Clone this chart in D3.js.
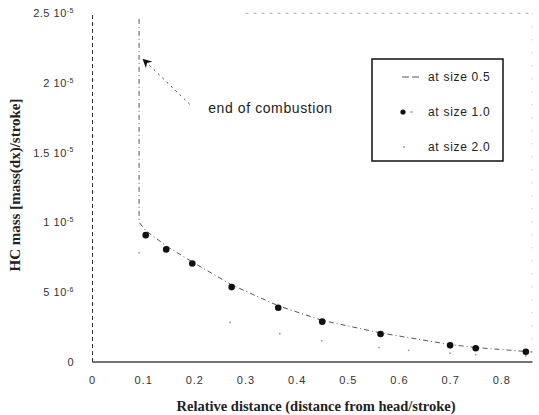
<!DOCTYPE html>
<html lang="en">
  <head>
    <meta charset="utf-8">
    <title>HC mass</title>
    <script src="https://cdn.jsdelivr.net/npm/d3@7/dist/d3.min.js"></script>
    <style>
      body { margin: 0; background: #fff; }
      svg { display: block; }
    </style>
  </head>
  <body>
    <div id="chart"></div>
    <script type="text/javascript">
    (function(d3) {
      'use strict';

      // tick values / labels
      var xTicks = [0, 0.1, 0.2, 0.3, 0.4, 0.5, 0.6, 0.7, 0.8];
      var xTickLabels = ['0', '0.1', '0.2', '0.3', '0.4', '0.5', '0.6', '0.7', '0.8'];
      var yTicks = [0, 5e-6, 1e-5, 1.5e-5, 2e-5, 2.5e-5];
      var yTickMant = ['0', '5', '1', '1.5', '2', '2.5'];
      var yTickExp = ['', '-6', '-5', '-5', '-5', '-5'];

      // at size 0.5 (dashed line)
      var size05X = [0.092, 0.092, 0.105, 0.145, 0.196, 0.273, 0.364, 0.45, 0.564, 0.70, 0.75, 0.848, 0.86];
      var size05Y = [2.46e-5, 1.0e-5, 0.94e-5, 0.83e-5, 0.715e-5, 0.55e-5, 0.40e-5, 0.295e-5, 0.205e-5, 0.122e-5, 0.10e-5, 0.072e-5, 0.068e-5];

      // at size 1.0 (filled dots)
      var size10X = [0.105, 0.145, 0.196, 0.273, 0.364, 0.45, 0.564, 0.70, 0.75, 0.848];
      var size10Y = [0.907e-5, 0.805e-5, 0.704e-5, 0.534e-5, 0.386e-5, 0.286e-5, 0.197e-5, 0.116e-5, 0.095e-5, 0.07e-5];

      // at size 2.0 (faint small marks)
      var size20X = [0.092, 0.27, 0.367, 0.449, 0.561, 0.619, 0.70, 0.75, 0.848];
      var size20Y = [0.78e-5, 0.28e-5, 0.20e-5, 0.15e-5, 0.10e-5, 0.08e-5, 0.06e-5, 0.05e-5, 0.04e-5];

      var legendLabels = ['at size 0.5', 'at size 1.0', 'at size 2.0'];

      var width = 539;
      var height = 415;

      var x = d3.scaleLinear().domain([0, 0.86]).range([92, 532]);
      var y = d3.scaleLinear().domain([0, 2.5e-5]).range([361.5, 13.3]);

      var svg = d3.select('#chart')
        .append('svg')
        .attr('width', width)
        .attr('height', height)
        .style('font-family', 'Arial, "Liberation Sans", sans-serif');

      // frame (faint, scanned look)
      svg.append('line')
        .attr('x1', x(0.3)).attr('x2', x(0.86))
        .attr('y1', y(2.5e-5)).attr('y2', y(2.5e-5))
        .attr('stroke', '#aaa').attr('stroke-width', 1)
        .attr('stroke-dasharray', '3,5');
      svg.append('line')
        .attr('x1', x(0.86)).attr('x2', x(0.86))
        .attr('y1', y(2.5e-5)).attr('y2', y(0))
        .attr('stroke', '#bbb').attr('stroke-width', 1)
        .attr('stroke-dasharray', '1,12');

      // x axis
      var xAxis = d3.axisBottom(x)
        .tickValues(xTicks)
        .tickSize(0)
        .tickPadding(15)
        .tickFormat(function(d, i) { return xTickLabels[i]; });
      var gx = svg.append('g')
        .attr('transform', 'translate(0,' + y(0) + ')')
        .call(xAxis);
      gx.select('.domain').attr('stroke', '#444').attr('stroke-width', 1.4);
      gx.selectAll('text')
        .attr('font-size', 11)
        .attr('fill', '#333')
        .attr('letter-spacing', 1);

      // y axis
      var yAxis = d3.axisLeft(y)
        .tickValues(yTicks)
        .tickSize(0)
        .tickPadding(18)
        .tickFormat(function() { return ''; });
      var gy = svg.append('g')
        .attr('transform', 'translate(' + x(0) + ',0)')
        .call(yAxis);
      gy.select('.domain')
        .attr('stroke', '#333').attr('stroke-width', 1)
        .attr('stroke-dasharray', '4,3');
      gy.selectAll('.tick text')
        .attr('font-size', 11)
        .attr('fill', '#333')
        .attr('letter-spacing', 0.5)
        .each(function(d, i) {
          var t = d3.select(this);
          if (yTickExp[i] === '') {
            t.text(yTickMant[i]);
            return;
          }
          t.append('tspan').text(yTickMant[i] + ' 10');
          t.append('tspan')
            .attr('font-size', 7)
            .attr('dy', '-0.6em')
            .text(yTickExp[i]);
        });

      // axis titles
      svg.append('text')
        .attr('x', 316)
        .attr('y', 411)
        .attr('text-anchor', 'middle')
        .attr('font-family', '"Liberation Serif", "Times New Roman", serif')
        .attr('font-weight', 'bold')
        .attr('font-size', 14.5)
        .attr('fill', '#222')
        .text('Relative distance (distance from head/stroke)');

      svg.append('text')
        .attr('transform', 'translate(20,185) rotate(-90)')
        .attr('text-anchor', 'middle')
        .attr('font-family', '"Liberation Serif", "Times New Roman", serif')
        .attr('font-weight', 'bold')
        .attr('font-size', 15)
        .attr('fill', '#222')
        .text('HC mass [mass(dx)/stroke]');

      // at size 0.5 line
      var line = d3.line()
        .x(function(d) { return x(d[0]); })
        .y(function(d) { return y(d[1]); });
      svg.append('path')
        .datum(d3.zip(size05X, size05Y))
        .attr('d', line)
        .attr('fill', 'none')
        .attr('stroke', '#555')
        .attr('stroke-width', 1)
        .attr('stroke-dasharray', '5,3,1,3');

      // at size 2.0 marks
      svg.selectAll('.s20')
        .data(d3.zip(size20X, size20Y))
        .enter()
        .append('circle')
        .attr('class', 's20')
        .attr('cx', function(d) { return x(d[0]); })
        .attr('cy', function(d) { return y(d[1]); })
        .attr('r', 0.9)
        .attr('fill', '#999');

      // at size 1.0 dots
      svg.selectAll('.s10')
        .data(d3.zip(size10X, size10Y))
        .enter()
        .append('circle')
        .attr('class', 's10')
        .attr('cx', function(d) { return x(d[0]); })
        .attr('cy', function(d) { return y(d[1]); })
        .attr('r', 3.3)
        .attr('fill', '#111');

      // annotation: end of combustion
      svg.append('defs').append('marker')
        .attr('id', 'arrow')
        .attr('viewBox', '0 0 10 10')
        .attr('refX', 9).attr('refY', 5)
        .attr('markerWidth', 9).attr('markerHeight', 9)
        .attr('markerUnits', 'userSpaceOnUse')
        .attr('orient', 'auto')
        .append('path')
        .attr('d', 'M0,0 L10,5 L0,10 L3,5 z')
        .attr('fill', '#111');
      svg.append('line')
        .attr('x1', x(0.191)).attr('y1', y(1.847e-5))
        .attr('x2', x(0.100)).attr('y2', y(2.17e-5))
        .attr('stroke', '#444')
        .attr('stroke-width', 1)
        .attr('stroke-dasharray', '2,4')
        .attr('marker-end', 'url(#arrow)');
      svg.append('text')
        .attr('x', x(0.227))
        .attr('y', y(1.785e-5))
        .attr('font-size', 14)
        .attr('letter-spacing', 0.6)
        .attr('fill', '#222')
        .text('end of combustion');

      // legend
      var lg = svg.append('g').attr('transform', 'translate(372,59)');
      lg.append('rect')
        .attr('width', 131).attr('height', 102)
        .attr('fill', '#fff')
        .attr('stroke', '#111')
        .attr('stroke-width', 1.5);
      var rows = lg.selectAll('.row')
        .data(legendLabels)
        .enter()
        .append('g')
        .attr('transform', function(d, i) { return 'translate(0,' + (18 + i * 35) + ')'; });
      rows.append('text')
        .attr('x', 56)
        .attr('y', 4)
        .attr('font-size', 12)
        .attr('letter-spacing', 0.7)
        .attr('fill', '#222')
        .text(function(d) { return d; });
      rows.filter(function(d, i) { return i === 0; })
        .append('line')
        .attr('x1', 30).attr('x2', 47)
        .attr('stroke', '#555').attr('stroke-dasharray', '7,3');
      rows.filter(function(d, i) { return i === 1; })
        .append('circle')
        .attr('cx', 31).attr('r', 2.6).attr('fill', '#111');
      rows.filter(function(d, i) { return i === 1; })
        .append('line')
        .attr('x1', 38).attr('x2', 41)
        .attr('stroke', '#888');
      rows.filter(function(d, i) { return i === 2; })
        .append('circle')
        .attr('cx', 32).attr('r', 0.9).attr('fill', '#999');

    })(window.d3);
    </script>
  </body>
</html>
